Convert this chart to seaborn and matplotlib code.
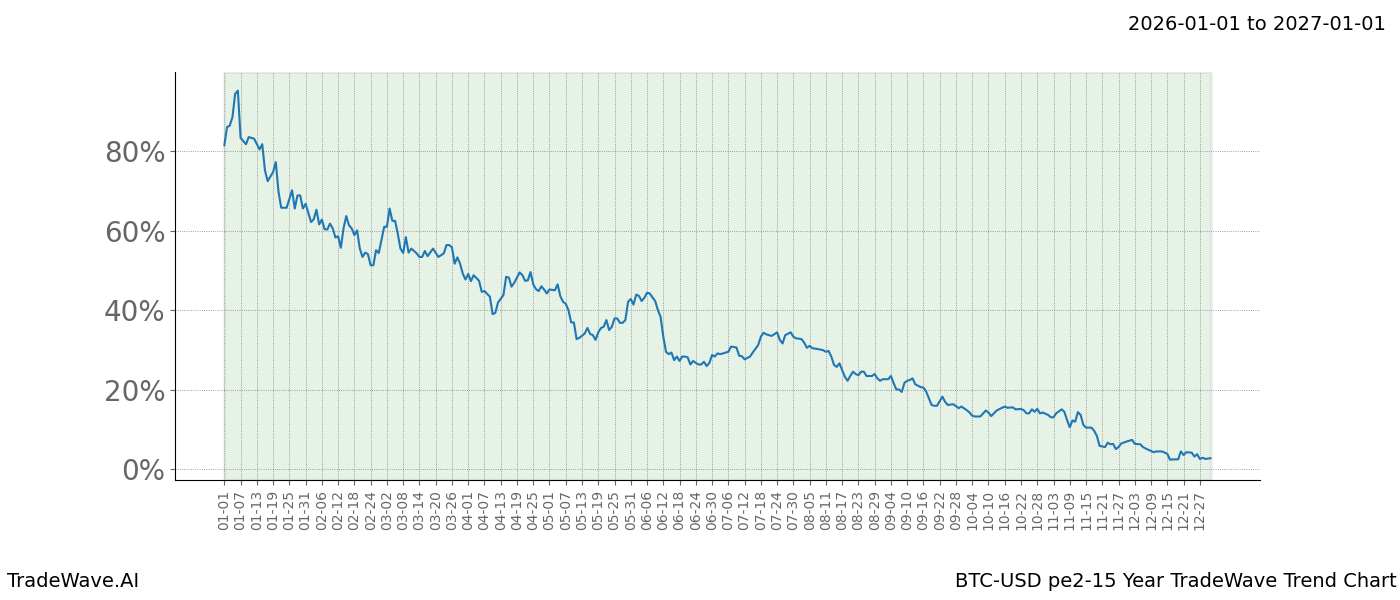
import numpy as np
import pandas as pd
import matplotlib
matplotlib.use("Agg")
import matplotlib.pyplot as plt
import matplotlib.dates as mdates
import matplotlib.ticker as mticker
import seaborn as sns

# day offsets from 2026-01-01 and trend value (%)
day_offset = [0, 1, 2, 3, 4, 5, 6, 8, 9, 11, 13, 14, 15, 16, 18, 19, 20, 21, 23, 25,
              26, 27, 28, 29, 30, 32, 33, 34, 35, 36, 37, 38, 39, 40, 41, 42, 43, 44, 45, 46,
              47, 48, 49, 50, 51, 52, 53, 54, 55, 56, 57, 59, 60, 61, 62, 63, 64, 65, 66, 67,
              68, 69, 71, 72, 73, 74, 75, 77, 79, 81, 82, 83, 84, 85, 86, 87, 88, 89, 90, 91,
              92, 93, 94, 95, 96, 98, 99, 100, 101, 103, 104, 105, 106, 107, 109, 110, 111, 112, 113, 114,
              115, 116, 117, 118, 119, 120, 122, 123, 124, 125, 126, 127, 128, 129, 130, 131, 133, 134, 135, 136,
              137, 138, 139, 140, 141, 142, 143, 144, 145, 146, 147, 148, 149, 150, 151, 152, 153, 154, 155, 156,
              157, 158, 159, 160, 161, 162, 163, 164, 165, 166, 167, 168, 169, 170, 171, 172, 173, 174, 175, 176,
              177, 178, 179, 180, 181, 182, 183, 184, 186, 187, 189, 190, 191, 192, 194, 195, 197, 198, 199, 200,
              202, 204, 205, 206, 207, 209, 210, 211, 213, 214, 215, 216, 217, 219, 221, 222, 223, 224, 225, 226,
              227, 228, 229, 230, 231, 232, 233, 234, 235, 236, 237, 239, 240, 241, 242, 243, 245, 246, 247, 248,
              249, 250, 251, 252, 253, 254, 255, 257, 258, 259, 260, 261, 262, 263, 265, 266, 267, 269, 271, 272,
              274, 275, 276, 277, 279, 281, 282, 283, 285, 287, 288, 289, 291, 292, 294, 295, 296, 297, 298, 299,
              300, 301, 302, 304, 305, 306, 307, 309, 310, 311, 312, 313, 314, 315, 316, 317, 318, 320, 321, 322,
              323, 325, 326, 327, 328, 329, 330, 331, 333, 334, 335, 336, 338, 339, 341, 343, 344, 346, 348, 349,
              350, 352, 353, 354, 355, 357, 358, 359, 360, 361, 362, 364]

trend_pct = [81.5, 86.1, 86.5, 88.6, 94.5, 95.3, 83.4, 81.8, 83.6, 83.2, 80.5, 81.8, 75.2, 72.5, 74.8, 77.3, 69.8, 65.8, 65.8, 70.2,
             65.6, 68.9, 68.9, 65.6, 66.8, 62.2, 62.9, 65.3, 61.6, 62.8, 60.4, 60.3, 61.8, 60.6, 58.3, 58.6, 55.7, 60.6, 63.7, 61.4,
             60.6, 58.9, 60.1, 55.5, 53.4, 54.5, 54.1, 51.3, 51.3, 55.1, 54.4, 61.0, 61.0, 65.6, 62.5, 62.5, 59.3, 55.5, 54.4, 58.4,
             54.5, 55.5, 54.3, 53.4, 53.4, 54.9, 53.6, 55.5, 53.4, 54.3, 56.4, 56.4, 55.8, 51.7, 53.3, 51.7, 49.2, 47.7, 49.1, 47.3,
             48.8, 48.1, 47.4, 44.6, 44.8, 43.4, 39.0, 39.3, 41.9, 43.8, 48.4, 48.2, 45.9, 46.9, 49.5, 48.8, 47.4, 47.5, 49.6, 46.5,
             45.3, 44.8, 46.0, 45.2, 44.2, 45.2, 45.0, 46.5, 43.5, 42.1, 41.6, 40.0, 36.9, 36.9, 32.7, 33.0, 34.1, 35.5, 34.0, 33.7,
             32.5, 34.4, 35.5, 35.8, 37.5, 35.0, 35.8, 37.9, 37.9, 36.8, 36.8, 37.5, 42.1, 42.8, 41.4, 43.9, 43.6, 42.3, 43.1, 44.4,
             44.2, 43.2, 42.3, 40.0, 38.3, 33.3, 29.5, 28.9, 29.3, 27.4, 28.3, 27.2, 28.3, 28.3, 28.1, 26.3, 27.2, 26.7, 26.3, 26.3,
             27.0, 25.9, 26.7, 28.7, 28.3, 29.1, 28.9, 29.1, 29.5, 30.8, 30.6, 28.5, 28.4, 27.6, 28.3, 29.3, 31.2, 33.3, 34.3, 33.9,
             33.5, 34.4, 32.5, 31.6, 33.7, 34.4, 33.3, 32.9, 32.7, 31.8, 30.5, 31.0, 30.4, 30.2, 29.9, 29.5, 29.7, 28.3, 26.2, 25.7,
             26.6, 24.9, 23.2, 22.2, 23.4, 24.5, 23.9, 23.6, 24.5, 24.5, 23.4, 23.4, 23.9, 22.8, 22.2, 22.6, 22.6, 23.4, 21.6, 20.0,
             20.0, 19.4, 21.7, 22.2, 22.4, 22.8, 21.3, 20.6, 20.5, 19.5, 17.8, 16.1, 15.9, 15.9, 18.2, 16.9, 16.1, 16.3, 15.3, 15.7,
             14.8, 14.2, 13.4, 13.2, 13.2, 14.7, 14.2, 13.3, 14.7, 15.4, 15.7, 15.4, 15.5, 15.0, 15.1, 14.8, 14.0, 14.0, 15.0, 14.4,
             15.1, 14.0, 14.2, 13.6, 13.0, 13.0, 14.0, 15.0, 14.4, 12.3, 10.5, 12.2, 11.9, 14.3, 13.6, 11.1, 10.4, 10.4, 9.6, 8.3,
             5.8, 5.5, 6.6, 6.2, 6.3, 5.0, 5.5, 6.4, 6.9, 7.1, 7.3, 6.3, 6.2, 5.5, 4.8, 4.2, 4.4, 4.4, 3.8, 2.3,
             2.4, 2.4, 4.4, 3.5, 4.2, 4.1, 3.1, 3.7, 2.5, 2.8, 2.5, 2.7]

start_date = "2026-01-01"
last_date = "2026-12-31"
end_date = "2027-01-01"

dates = pd.Timestamp(start_date) + pd.to_timedelta(day_offset, unit="D")
df = pd.DataFrame({"date": dates, "trend": trend_pct})

sns.set_style("ticks")
plt.rcParams["font.family"] = ["DejaVu Sans"]

fig, ax = plt.subplots(figsize=(14, 6), dpi=100)
fig.subplots_adjust(left=0.125, right=0.9, top=0.88, bottom=0.2)

# shaded trend window
ax.axvspan(pd.Timestamp(start_date), pd.Timestamp(last_date), facecolor="green",
           edgecolor="gray", alpha=0.1, linewidth=2.5, zorder=0)
sns.lineplot(data=df, x="date", y="trend", ax=ax, color="#1f77b4", linewidth=1.5)

ax.set_ylim(-2.8, 100)
ax.set_xlabel("")
ax.set_ylabel("")

ticks = pd.date_range(start_date, last_date, freq="6D")
ax.set_xticks(ticks)
ax.xaxis.set_major_formatter(mdates.DateFormatter("%m-%d"))
ax.set_yticks([0, 20, 40, 60, 80])
ax.yaxis.set_major_formatter(mticker.FuncFormatter(lambda v, p: f"{v:.0f}%"))

ax.tick_params(axis="x", labelrotation=90, labelsize=10, colors="#666666")
ax.tick_params(axis="y", labelsize=20, colors="#666666")
for sp in ["left", "bottom"]:
    ax.spines[sp].set_color("black")
ax.grid(True, color="gray", linestyle=":", linewidth=0.6)
sns.despine(ax=ax)

fig.text(0.99, 0.975, f"{start_date} to {end_date}", ha="right", va="top", fontsize=14, color="black")
fig.text(0.005, 0.015, "TradeWave.AI", ha="left", va="bottom", fontsize=14, color="black")
fig.text(0.998, 0.015, "BTC-USD pe2-15 Year TradeWave Trend Chart", ha="right", va="bottom",
         fontsize=14, color="black")

fig.savefig("out.png", dpi=100)
